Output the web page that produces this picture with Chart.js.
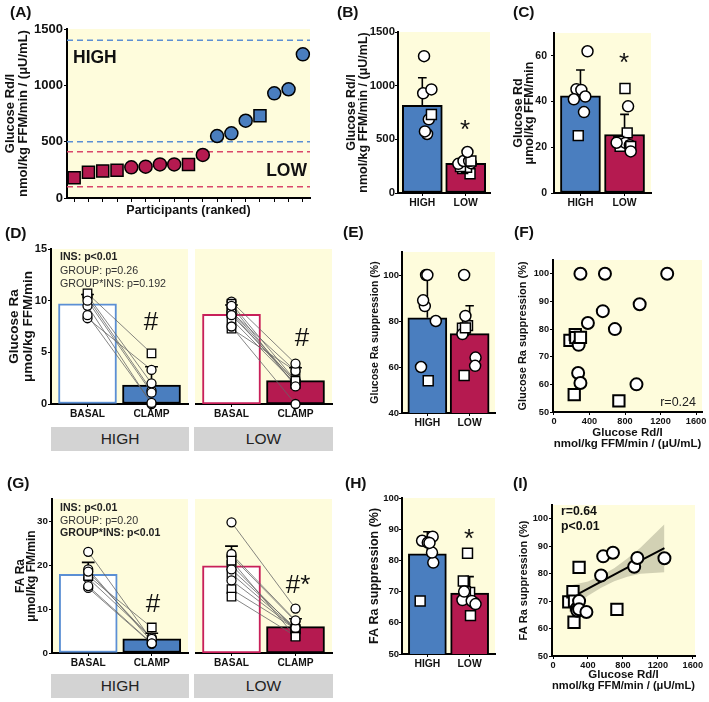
<!DOCTYPE html>
<html lang="en">
<head>
<meta charset="UTF-8">
<title>Glucose and FA kinetics by insulin sensitivity</title>
<script src="https://cdn.jsdelivr.net/npm/chart.js@4.4.1/dist/chart.umd.min.js"></script>
<style>
  body { margin: 0; background: #fff; }
  #fig { position: relative; width: 709px; height: 702px; overflow: hidden;
         font-family: 'Liberation Sans', Arial, sans-serif; }
  #fig canvas { position: absolute; }
  .t { position: absolute; white-space: nowrap; line-height: 1; }
  .strip { position: absolute; background: #d3d3d3; color: #222; text-align: center; font-size: 15.5px; }
</style>
</head>
<body>
<div id="fig"></div>
<script>
// ---- values ----
// glucose Rd/I per participant, ranked (A, B, F, I); 's' = square marker, 'c' = circle
const rdiLow = [180, 228, 240, 246, 272, 278, 298, 298, 298, 382];
const rdiHigh = [550, 574, 686, 731, 929, 965, 1275];
const shpLow = ['s', 's', 's', 's', 'c', 'c', 'c', 'c', 's', 'c'];
const shpHigh = ['c', 'c', 'c', 's', 'c', 'c', 'c'];
const cutHigh = [500, 1400];
const cutLow = [100, 410];

const groups = ['HIGH', 'LOW'];
const phases = ['BASAL', 'CLAMP'];

// (B)
const rdiMean = [816, 277];
const rdiSd = [258, 55];
const jitBHigh = [0.11, 0.06, 0.15, 0.21, 0.02, 0.21, 0.04];
const jitBLow = [0.1, -0.07, 0.02, -0.12, -0.17, 0.12, -0.05, 0.08, 0.12, 0.04];

// (C) glucose Rd, umol/kg FFM/min
const rdHigh = [45.4, 41.0, 35.4, 25.1, 45.1, 42.2, 62.0];
const rdLow = [45.7, 26.3, 22.6, 20.4, 37.9, 21.9, 22.0, 20.9, 20.4, 18.2];
const rdMean = [42.5, 25.6];
const rdSd = [11.3, 8.8];
const jitCHigh = [-0.09, -0.15, 0.08, -0.05, 0.02, 0.11, 0.16];
const jitCLow = [0.01, 0.06, -0.13, -0.1, 0.08, 0.02, -0.18, 0.12, 0.14, 0.14];

// (D) glucose Ra basal / clamp
const glcBasalHigh = [10.3, 9.5, 10.5, 10.7, 8.3, 10.0, 8.6];
const glcClampHigh = [1.3, 0.0, 2.0, 4.9, 3.3, 1.1, 0.1];
const glcBasalLow = [8.2, 7.3, 8.8, 9.0, 8.9, 8.6, 7.5, 9.9, 9.7, 9.5];
const glcClampLow = [1.95, 3.2, 1.9, 2.1, 3.2, 2.2, 0.0, 3.9, 2.25, 1.7];
const glcMeanHigh = [9.7, 1.83];
const glcSdHigh = [0.9, 1.77];
const glcMeanLow = [8.68, 2.26];
const glcSdLow = [0.9, 1.25];

// (E) and (F) glucose Ra suppression (%)
const glcSupHigh = [86.5, 100, 80, 54, 60, 89, 100];
const glcSupLow = [75.9, 56.3, 78.0, 76.9, 64.1, 74.3, 100, 60.5, 77, 82.2];
const glcSupMean = [81.4, 74.5];
const glcSupSd = [18.6, 12.1];
const jitEHigh = [-0.06, -0.03, 0.2, 0.02, -0.15, -0.1, 0.0];
const jitELow = [-0.15, -0.13, -0.05, -0.17, 0.14, -0.17, -0.13, 0.13, -0.1, -0.1];

// (G) FA Ra basal / clamp
const faBasalHigh = [17.0, 19.0, 23.0, 17.5, 18.5, 14.8, 15.2];
const faClampHigh = [3.5, 2.6, 2.9, 5.8, 3.2, 2.1, 2.2];
const faBasalLow = [18.0, 20.0, 14.5, 12.8, 22.0, 16.5, 19.0, 22.5, 21.0, 29.7];
const faClampLow = [5.45, 5.3, 5.5, 3.85, 7.2, 5.5, 5.7, 7.4, 3.7, 10.1];
const faMeanHigh = [17.9, 3.2];
const faSdHigh = [2.7, 1.3];
const faMeanLow = [19.8, 6.0];
const faSdLow = [4.5, 1.8];

// (H) and (I) FA Ra suppression (%)
const faSupHigh = [79.3, 86.3, 87.6, 67, 82.5, 85.7, 85.6];
const faSupLow = [69.7, 73.4, 62.3, 70, 67.3, 66.5, 70, 67, 82.3, 66];
const faSupMean = [82.1, 69.5];
const faSupSd = [7.1, 5.3];
const jitHHigh = [0.14, -0.125, 0.125, -0.17, 0.11, 0.01, 0.05];
const jitHLow = [0, -0.15, 0.02, -0.1, -0.17, 0.1, -0.13, 0.05, -0.05, 0.14];

// (I) regression line and its confidence band
const fitX = [180, 400, 550, 700, 850, 1000, 1275];
const fitMid = [70.7, 74.5, 77.1, 79.6, 82.2, 84.7, 89.3];
const fitLo = [65.8, 71.9, 74.9, 77.2, 78.9, 80.0, 80.5];
const fitHi = [75.6, 77.1, 79.3, 82.0, 85.5, 89.4, 98.0];

// ---- styling ----
const YELLOW = '#fefcdc';
const BLUE = '#4a7ebf';
const RED = '#b51a50';
const BLUE_LINE = '#5b8fd4';
const RED_LINE = '#c8205a';

Chart.defaults.font.family = "'Liberation Sans', Arial, sans-serif";
Chart.defaults.font.weight = 'bold';
Chart.defaults.color = '#111';
Chart.defaults.animation = false;
Chart.defaults.responsive = false;
Chart.defaults.layout.autoPadding = false;
Chart.defaults.plugins.legend.display = false;
Chart.defaults.plugins.tooltip.enabled = false;

Chart.register({
  id: 'plotBg',
  beforeDraw(chart) {
    const a = chart.chartArea, ctx = chart.ctx;
    ctx.save();
    ctx.fillStyle = YELLOW;
    ctx.fillRect(a.left, a.top, a.right - a.left, a.bottom - a.top);
    ctx.restore();
  }
});

const fig = document.getElementById('fig');

// box = canvas [x, y, w, h] on the page, area = plot [left, top, right, bottom]
function panel(box, area, datasets, scales) {
  const [bx, by, bw, bh] = box;
  const [l, t, r, b] = area;
  const cv = document.createElement('canvas');
  cv.width = bw; cv.height = bh;
  cv.style.left = bx + 'px'; cv.style.top = by + 'px';
  fig.appendChild(cv);
  scales.x.afterFit = s => { s.height = by + bh - b; s.paddingLeft = 0; s.paddingRight = 0; };
  scales.y.afterFit = s => { s.width = l - bx; s.paddingTop = 0; s.paddingBottom = 0; };
  return new Chart(cv, {
    type: 'scatter',
    data: { datasets },
    options: { layout: { padding: { left: 0, top: t - by, right: bx + bw - r, bottom: 0 } }, scales }
  });
}

function axis(min, max, ticks, size, labels) {
  return {
    type: 'linear', min, max, offset: false,
    afterBuildTicks: s => { s.ticks = ticks.map(v => ({ value: v })); },
    border: { display: true, color: '#000', width: 2 },
    grid: { drawOnChartArea: false, drawTicks: true, tickLength: 3, color: '#000', lineWidth: 1, offset: false },
    ticks: { font: { size }, padding: 1, color: '#111', autoSkip: false, maxRotation: 0,
             callback: v => labels ? labels[v] : String(v) }
  };
}

function title(text, size, lh) {
  return { display: true, text, color: '#111', padding: 0, font: { size, lineHeight: lh, weight: 'bold' } };
}

function pts(xs, ys, shapes, fill, r, rs, bw) {
  return {
    type: 'scatter', order: 1, clip: false,
    data: ys.map((y, i) => ({ x: xs[i], y })),
    pointStyle: shapes.map(s => s === 's' ? 'rect' : 'circle'),
    pointRadius: shapes.map(s => s === 's' ? rs : r),
    backgroundColor: fill, borderColor: '#000', borderWidth: bw
  };
}

function line(data, color, width, dash, order) {
  return { type: 'scatter', showLine: true, data, borderColor: color, borderWidth: width,
           borderDash: dash || [], pointRadius: 0, order, clip: false };
}

function bars(ys, fills, borders, w) {
  return { type: 'bar', order: 4, data: ys.map((y, i) => ({ x: i, y })),
           backgroundColor: fills, borderColor: borders, borderWidth: 2, borderSkipped: false, barThickness: w };
}

const GAP = { x: NaN, y: NaN };
function errData(means, sds, cap) {
  const d = [];
  means.forEach((m, i) => {
    const top = m + sds[i];
    d.push({ x: i, y: m }, { x: i, y: top }, GAP, { x: i - cap, y: top }, { x: i + cap, y: top }, GAP);
  });
  return d;
}

function pairData(basal, clamp) {
  const d = [];
  basal.forEach((v, i) => d.push({ x: 0, y: v }, { x: 1, y: clamp[i] }, GAP));
  return d;
}

const shift = (jit, base) => jit.map(j => base + j);

// ---- (A) ----
const rankX = rdiLow.map((_, i) => i + 1);
const rankXHigh = rdiHigh.map((_, i) => rdiLow.length + i + 1);
const nRank = rdiLow.length + rdiHigh.length;
const edge = v => [{ x: 0.5, y: v }, { x: nRank + 0.5, y: v }];
{
  const x = axis(0.5, nRank + 0.5, rankX.concat(rankXHigh), 12);
  x.ticks.display = false;
  x.grid.tickLength = 4;
  x.title = title('Participants (ranked)', 12.5, 1.1);
  const y = axis(0, 1500, [0, 500, 1000, 1500], 13);
  y.title = title(['Glucose Rd/I', 'nmol/kg FFM/min / (\u03bcU/mL)'], 13, 1.07);
  panel([3, 15, 317, 202], [67, 29, 310, 198], [
    line(edge(cutHigh[0]), BLUE_LINE, 1.5, [6, 4], 3),
    line(edge(cutHigh[1]), BLUE_LINE, 1.5, [6, 4], 3),
    line(edge(cutLow[0]), '#d9476c', 1.5, [6, 4], 3),
    line(edge(cutLow[1]), '#d9476c', 1.5, [6, 4], 3),
    pts(rankX, rdiLow, shpLow, RED, 6.5, 8.5, 1.5),
    pts(rankXHigh, rdiHigh, shpHigh, BLUE, 6.5, 8.5, 1.5)
  ], { x, y });
}

// two-bar group panels (B, C, E, H)
function groupPanel(box, area, xr, yr, yticks, tsize, tpad, ytitle, means, sds, hi, lo, jh, jl, barW) {
  const x = axis(xr[0], xr[1], [0, 1], 10.4, groups);
  const y = axis(yr[0], yr[1], yticks, tsize);
  y.ticks.padding = tpad;
  y.title = ytitle;
  panel(box, area, [
    bars(means, [BLUE, RED], '#000', barW),
    line(errData(means, sds, 0.1), '#000', 1.6, null, 2),
    pts(shift(jh, 0), hi, shpHigh, '#fff', 5.5, 7, 1.5),
    pts(shift(jl, 1), lo, shpLow, '#fff', 5.5, 7, 1.5)
  ], { x, y });
}

groupPanel([346, 15, 154, 205], [398, 32, 490, 193], [-0.56, 1.56], [0, 1500], [0, 500, 1000, 1500], 11.4, 0,
  title(['Glucose Rd/I', 'nmol/kg FFM/min / (\u03bcU/mL)'], 12.5, 0.93),
  rdiMean, rdiSd, rdiHigh, rdiLow, jitBHigh, jitBLow, 40);

groupPanel([513, 15, 196, 205], [554, 33, 651, 193], [-0.6, 1.6], [0, 70], [0, 20, 40, 60], 10.5, 4,
  title(['Glucose Rd', '\u03bcmol/kg FFM/min'], 12.5, 0.88),
  rdMean, rdSd, rdHigh, rdLow, jitCHigh, jitCLow, 40);

groupPanel([369, 240, 140, 200], [402, 252, 495, 413], [-0.6, 1.6], [40, 110], [40, 60, 80, 100], 9.5, 0,
  title('Glucose Ra suppression (%)', 10.5, 1.1),
  glcSupMean, glcSupSd, glcSupHigh, glcSupLow, jitEHigh, jitELow, 39);

groupPanel([368, 490, 141, 190], [402, 498, 495, 654], [-0.6, 1.6], [50, 100], [50, 60, 70, 80, 90, 100], 9.5, 0,
  title('FA Ra suppression (%)', 12.5, 1.1),
  faSupMean, faSupSd, faSupHigh, faSupLow, jitHHigh, jitHLow, 38);

// basal/clamp facet panels (D, G)
function facet(box, area, yr, yticks, tsize, ytitle, means, sds, basal, clamp, shapes, color, lineColor) {
  const x = axis(-0.57, 1.57, [0, 1], 10.2, phases);
  const y = axis(yr[0], yr[1], yticks, tsize);
  if (ytitle) y.title = ytitle; else y.display = false;
  const zero = basal.map(() => 0), one = basal.map(() => 1);
  panel(box, area, [
    bars(means, ['#fff', color], [lineColor, '#000'], 58),
    line(pairData(basal, clamp), '#666', 0.8, null, 3),
    line(errData(means, sds, 0.1), '#000', 1.6, null, 2),
    pts(zero, basal, shapes, '#fff', 4.5, 6, 1.3),
    pts(one, clamp, shapes, '#fff', 4.5, 6, 1.3)
  ], { x, y });
}

facet([8, 240, 182, 190], [51, 249, 188, 404], [0, 15], [0, 5, 10, 15], 11,
  title(['Glucose Ra', '\u03bcmol/kg FFM/min'], 13.5, 0.985),
  glcMeanHigh, glcSdHigh, glcBasalHigh, glcClampHigh, shpHigh, BLUE, BLUE_LINE);
facet([195, 240, 150, 190], [195, 249, 332, 404], [0, 15], [0, 5, 10, 15], 11, null,
  glcMeanLow, glcSdLow, glcBasalLow, glcClampLow, shpLow, RED, RED_LINE);

facet([15, 490, 175, 180], [52, 499, 188, 653], [0, 35], [0, 10, 20, 30], 9.8,
  title(['FA Ra', '\u03bcmol/kg FM/min'], 12, 0.95),
  faMeanHigh, faSdHigh, faBasalHigh, faClampHigh, shpHigh, BLUE, BLUE_LINE);
facet([195, 490, 150, 180], [195, 499, 332, 653], [0, 35], [0, 10, 20, 30], 9.8, null,
  faMeanLow, faSdLow, faBasalLow, faClampLow, shpLow, RED, RED_LINE);

// scatter panels (F, I)
const rdiAll = rdiLow.concat(rdiHigh);
const shpAll = shpLow.concat(shpHigh);
const xTitle = ['Glucose Rd/I', 'nmol/kg FFM/min / (\u03bcU/mL)'];
{
  const x = axis(-11, 1667, [0, 400, 800, 1200, 1600], 9.2);
  x.title = title(xTitle, 11.5, 1.0);
  const y = axis(50, 105, [50, 60, 70, 80, 90, 100], 9.2);
  y.title = title('Glucose Ra suppression (%)', 11, 1.1);
  panel([517, 245, 192, 205], [553, 260, 702, 412], [
    pts(rdiAll, glcSupLow.concat(glcSupHigh), shpAll, '#fff', 6, 8, 2)
  ], { x, y });
}
{
  const x = axis(-12, 1625, [0, 400, 800, 1200, 1600], 9.2);
  x.title = title(xTitle, 11.5, 1.0);
  const y = axis(50, 105, [50, 60, 70, 80, 90, 100], 9.2);
  y.title = title('FA Ra suppression (%)', 11, 1.1);
  const band = a => a.map((v, i) => ({ x: fitX[i], y: v }));
  panel([518, 495, 191, 197], [552, 505, 695, 656], [
    { type: 'line', order: 4, data: band(fitHi), borderWidth: 0, pointRadius: 0,
      fill: '+1', backgroundColor: 'rgba(120,120,100,0.33)' },
    { type: 'line', order: 5, data: band(fitLo), borderWidth: 0, pointRadius: 0, fill: false },
    line(band(fitMid), '#000', 2, null, 2),
    pts(rdiAll, faSupLow.concat(faSupHigh), shpAll, '#fff', 6, 8, 2)
  ], { x, y });
}

// ---- text ----
function note(text, x, y, size, o = {}) {
  const d = document.createElement('div');
  d.className = 't';
  d.textContent = text;
  d.style.left = x + 'px';
  d.style.top = y + 'px';
  d.style.fontSize = size + 'px';
  d.style.fontWeight = o.w || 'bold';
  d.style.color = o.c || '#111';
  const tx = o.a === 'c' ? '-50%' : o.a === 'r' ? '-100%' : '0';
  d.style.transform = `translate(${tx}, -50%)`;
  fig.appendChild(d);
}
function strip(text, x, y, w, h) {
  const d = document.createElement('div');
  d.className = 'strip';
  d.textContent = text;
  Object.assign(d.style, { left: x + 'px', top: y + 'px', width: w + 'px', height: h + 'px', lineHeight: h + 'px' });
  fig.appendChild(d);
}

[['(A)', 10, 12], ['(B)', 337, 12], ['(C)', 513, 12], ['(D)', 5, 233], ['(E)', 343, 232],
 ['(F)', 514, 232], ['(G)', 7, 483], ['(H)', 345, 483], ['(I)', 513, 483]]
  .forEach(([t, x, y]) => note(t, x, y, 15.5));

note('HIGH', 73, 58, 17.5);
note('LOW', 307, 171, 17.5, { a: 'r' });

const star = (x, y) => note('*', x, y + 4.7, 26, { a: 'c', w: 'normal' });
star(465, 124);
star(624, 57);
star(469, 533);
note('#', 151, 321, 26, { a: 'c', w: 'normal' });
note('#', 302, 337, 26, { a: 'c', w: 'normal' });
note('#', 153, 603, 26, { a: 'c', w: 'normal' });
note('#*', 298, 584, 26, { a: 'c', w: 'normal' });

note('INS: p<0.01', 60, 256, 10.6, { c: '#222' });
note('GROUP: p=0.26', 60, 270, 10.7, { w: 'normal', c: '#333' });
note('GROUP*INS: p=0.192', 60, 283, 10.7, { w: 'normal', c: '#333' });
note('INS: p<0.01', 60, 507, 10.6, { c: '#222' });
note('GROUP: p=0.20', 60, 520, 10.7, { w: 'normal', c: '#333' });
note('GROUP*INS:  p<0.01', 60, 532, 10.6, { c: '#222' });

note('r=0.24', 696, 402, 12.5, { a: 'r', w: 'normal', c: '#222' });
note('r=0.64', 561, 511, 12.3);
note('p<0.01', 561, 526, 12.3);

strip('HIGH', 51, 427, 138, 24);
strip('LOW', 194, 427, 139, 24);
strip('HIGH', 51, 674, 138, 24);
strip('LOW', 194, 674, 139, 24);
</script>
</body>
</html>
